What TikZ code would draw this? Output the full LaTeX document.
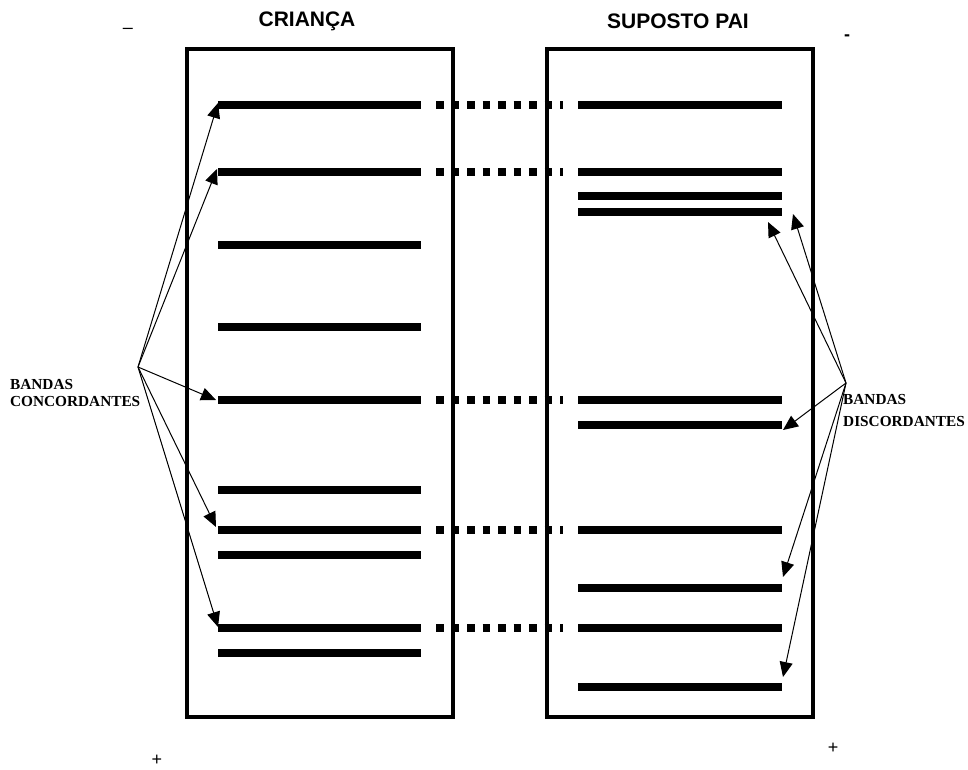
\documentclass[tikz,border=0pt]{standalone}
\usepackage{fontspec}
\setmainfont{Liberation Serif}
\newfontfamily\arialfont{Liberation Sans}
\usetikzlibrary{arrows.meta}
\begin{document}
\begin{tikzpicture}[x=1pt,y=-1pt,
  gelbox/.style={line width=3.5pt},
  band/.style={line width=7.5pt},
  dotband/.style={line width=7.5pt,dash pattern=on 7.5pt off 8pt},
  pointer/.style={line width=1pt,-{Triangle[length=15pt,width=13pt]}},
  title/.style={font=\arialfont\bfseries\fontsize{21}{24}\selectfont,inner sep=0pt},
  sign/.style={font=\arialfont\fontsize{18}{20}\selectfont,inner sep=0pt},
  lbl/.style={font=\bfseries\fontsize{15.3}{17}\selectfont,inner sep=0pt,anchor=west}]
\useasboundingbox (0,0) rectangle (968,770);
% boxes
\draw[gelbox] (187,49) rectangle (453,717);
\draw[gelbox] (547,49) rectangle (813,717);
% titles
\node[title] (tc) at (307,21) {CRIANÇA};
\node[title] (tp) at (678,21) {SUPOSTO PAI};
% signs
\node[sign] (m1) at (128,31) {–};
\node[font=\arialfont\bfseries\fontsize{18}{20}\selectfont,inner sep=0pt] (m2) at (847,38) {-};
\node[sign] (p1) at (157,760) {+};
\node[sign] (p2) at (833,748) {+};
% left bands
\foreach \y/\n in {105/1,172/2,245/3,327/4,400/5,490/6,530/7,555/8,628/9,653/10}{
  \coordinate (cl\n) at (218,\y);
  \coordinate (cr\n) at (421,\y);
  \draw[band] (cl\n) -- (cr\n);
}
% right bands
\foreach \y/\n in {105/1,172/2,196/3,212/4,400/5,425/6,530/7,588/8,628/9,687/10}{
  \coordinate (pl\n) at (578,\y);
  \coordinate (pr\n) at (782,\y);
  \draw[band] (pl\n) -- (pr\n);
}
% dotted links
\foreach \y/\n in {105/1,172/2,400/5,530/7,628/9}{
  \coordinate (da\n) at (436,\y);
  \coordinate (db\n) at (563,\y);
  \draw[dotband] (da\n) -- (db\n);
}
% labels
\node[lbl] (bc1) at (10,385) {BANDAS};
\node[lbl] (bc2) at (10,402) {CONCORDANTES};
\node[lbl] (bd1) at (843,400) {BANDAS};
\node[lbl] (bd2) at (843,422) {DISCORDANTES};
% concordant arrows
\coordinate (oc) at (138,367);
\coordinate (tc1) at (218,103);
\coordinate (tc2) at (217,169);
\coordinate (tc3) at (216,400);
\coordinate (tc4) at (216,527);
\coordinate (tc5) at (218,627);
\foreach \n in {1,...,5}{\draw[pointer] (oc) -- (tc\n);}
% discordant arrows
\coordinate (od) at (846,383);
\coordinate (td1) at (793,214);
\coordinate (td2) at (768,222);
\coordinate (td3) at (783,430);
\coordinate (td4) at (783,577);
\coordinate (td5) at (783,677);
\foreach \n in {1,...,5}{\draw[pointer] (od) -- (td\n);}
\end{tikzpicture}
\end{document}
